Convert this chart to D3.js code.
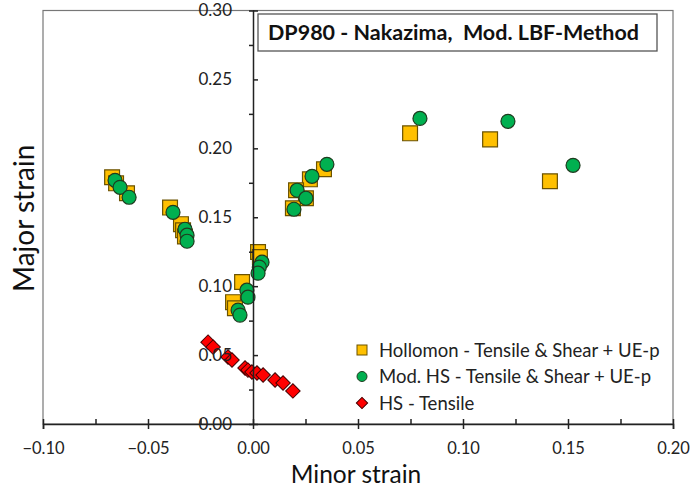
<!DOCTYPE html>
<html>
<head>
<meta charset="utf-8">
<script src="https://cdn.jsdelivr.net/npm/d3@7"></script>
<style>
  body { margin: 0; background: #fff; }
  svg { font-family: Lato, 'Open Sans', sans-serif; }
  .tick text { fill: #222; }
</style>
</head>
<body>
<svg id="chart"></svg>
<script>
// Hollomon - Tensile & Shear + UE-p
const hollomonMinor = [-0.0671, -0.0652, -0.0600, -0.0395, -0.0343, -0.0333, -0.0324,
  0.0024, 0.0033, -0.0052, -0.0095, -0.0086,
  0.0338, 0.0271, 0.0205, 0.0252, 0.0190,
  0.0748, 0.1129, 0.1414]
const hollomonMajor = [0.179, 0.1746, 0.1674, 0.157, 0.145, 0.1406, 0.136,
  0.1248, 0.1212, 0.103, 0.0884, 0.084,
  0.1848, 0.1775, 0.1696, 0.1638, 0.1565,
  0.2109, 0.2065, 0.1761]

// Mod. HS - Tensile & Shear + UE-p
const modHsMinor = [-0.0657, -0.0633, -0.0590, -0.0381, -0.0324, -0.0314, -0.0314,
  0.0043, 0.0030, 0.0024, -0.0029, -0.0024, -0.0071, -0.0062,
  0.0352, 0.0281, 0.0210, 0.0252, 0.0195,
  0.0795, 0.1214, 0.1524]
const modHsMajor = [0.1768, 0.1717, 0.1645, 0.1536, 0.1413, 0.137, 0.1326,
  0.1174, 0.1138, 0.1094, 0.0971, 0.092, 0.0826, 0.079,
  0.1884, 0.1797, 0.1696, 0.1638, 0.1558,
  0.2217, 0.2196, 0.1877]

// HS - Tensile
const hsMinor = [-0.0214, -0.0190, -0.0119, -0.0100, -0.0038, -0.0024, -0.0005, 0.0019,
  0.0048, 0.0105, 0.0143, 0.0190]
const hsMajor = [0.0594, 0.0558, 0.0486, 0.0464, 0.0406, 0.0391, 0.0377, 0.037,
  0.0355, 0.0319, 0.0297, 0.0240]

const xTicks = [-0.10, -0.05, 0.00, 0.05, 0.10, 0.15, 0.20]
const yTicks = [0.00, 0.05, 0.10, 0.15, 0.20, 0.25, 0.30]
const legendLabels = ['Hollomon - Tensile & Shear + UE-p', 'Mod. HS - Tensile & Shear + UE-p', 'HS - Tensile']
const chartTitle = 'DP980 - Nakazima,  Mod. LBF-Method'

const width = 694, height = 488
const svg = d3.select('#chart').attr('width', width).attr('height', height)

const x = d3.scaleLinear().domain([-0.1, 0.2]).range([43, 673])
const y = d3.scaleLinear().domain([0, 0.3]).range([424, 10.5])

// plot frame
svg.append('rect')
  .attr('x', x(-0.1)).attr('y', y(0.3))
  .attr('width', x(0.2) - x(-0.1)).attr('height', y(0) - y(0.3))
  .attr('fill', 'none').attr('stroke', '#777').attr('stroke-width', 1.2)

const minorX = d3.range(-0.075, 0.2, 0.05)
const minorY = d3.range(0.025, 0.3, 0.05)

// markers
const zip = (a, b) => a.map((v, i) => [v, b[i]])
const sq = d3.symbol().type(d3.symbolSquare).size(220)
const dia = d3.symbol().type(d3.symbolSquare).size(105)

const marks = svg.append('g')
marks.selectAll('.hol').data(zip(hollomonMinor, hollomonMajor)).join('path')
  .attr('class', 'hol')
  .attr('d', sq)
  .attr('transform', d => `translate(${x(d[0])},${y(d[1])})`)
  .attr('fill', '#FFC000').attr('stroke', '#6b5200').attr('stroke-width', 1.2)

marks.selectAll('.mod').data(zip(modHsMinor, modHsMajor)).join('circle')
  .attr('class', 'mod')
  .attr('cx', d => x(d[0])).attr('cy', d => y(d[1])).attr('r', 7)
  .attr('fill', '#00B050').attr('stroke', '#1f3b1f').attr('stroke-width', 1.2)

marks.selectAll('.hs').data(zip(hsMinor, hsMajor)).join('path')
  .attr('class', 'hs')
  .attr('d', dia)
  .attr('transform', d => `translate(${x(d[0])},${y(d[1])}) rotate(45)`)
  .attr('fill', '#FF0000').attr('stroke', '#400').attr('stroke-width', 1)

// x axis (major ticks cross, minor ticks inside)
const xAxisG = svg.append('g').attr('transform', `translate(0,${y(0)})`)
xAxisG.call(d3.axisBottom(x).tickValues(xTicks).tickSize(5).tickPadding(13).tickFormat(d3.format('.2f')))
xAxisG.selectAll('.tick line').attr('y1', -5)
xAxisG.append('g').call(d3.axisTop(x).tickValues(minorX).tickSize(5).tickFormat(''))
  .call(g => g.select('.domain').remove())
xAxisG.selectAll('line, path').attr('stroke', '#222').attr('stroke-width', 1.5)
xAxisG.selectAll('text').attr('font-size', 16.5).attr('font-family', 'Lato')

// y axis at x = 0
const yAxisG = svg.append('g').attr('transform', `translate(${x(0)},0)`)
yAxisG.call(d3.axisLeft(y).tickValues(yTicks).tickSize(4).tickPadding(17).tickFormat(d3.format('.2f')))
yAxisG.selectAll('.tick line').attr('x2', 5)
yAxisG.append('g').call(d3.axisLeft(y).tickValues(minorY).tickSize(4).tickFormat(''))
  .call(g => g.select('.domain').remove())
yAxisG.selectAll('line, path').attr('stroke', '#222').attr('stroke-width', 1.5)
yAxisG.selectAll('text').attr('font-size', 17).attr('font-family', 'Lato')

// axis titles
svg.append('text')
  .attr('x', (x(-0.1) + x(0.2)) / 2 - 2).attr('y', 482.8)
  .attr('text-anchor', 'middle').attr('font-size', 24.5).attr('fill', '#111')
  .text('Minor strain')

svg.append('text')
  .attr('transform', `translate(34,${(y(0) + y(0.3)) / 2 + 1}) rotate(-90)`)
  .attr('text-anchor', 'middle').attr('font-size', 28).attr('fill', '#111')
  .text('Major strain')

// title box
svg.append('rect')
  .attr('x', 258).attr('y', 14).attr('width', 399).attr('height', 37)
  .attr('fill', '#fff').attr('stroke', '#555').attr('stroke-width', 1.3)
svg.append('text')
  .attr('x', 268).attr('y', 40)
  .attr('font-size', 21.5).attr('font-weight', 'bold').attr('fill', '#111')
  .style('white-space', 'pre')
  .text(chartTitle)

// legend
const legend = svg.append('g').attr('transform', 'translate(362,350)')
const legendRows = legend.selectAll('g').data(legendLabels).join('g')
  .attr('transform', (d, i) => `translate(0,${i * 26.5})`)
legendRows.filter((d, i) => i === 0).append('rect')
  .attr('x', -5).attr('y', -5).attr('width', 10).attr('height', 10)
  .attr('fill', '#FFC000').attr('stroke', '#6b5200')
legendRows.filter((d, i) => i === 1).append('circle')
  .attr('r', 5).attr('fill', '#00B050').attr('stroke', '#1f3b1f')
legendRows.filter((d, i) => i === 2).append('rect')
  .attr('x', -4).attr('y', -4).attr('width', 8).attr('height', 8)
  .attr('transform', 'rotate(45)')
  .attr('fill', '#FF0000').attr('stroke', '#400')
legendRows.append('text')
  .attr('x', 17).attr('y', 6.5)
  .attr('font-size', 18.5).attr('fill', '#222')
  .text(d => d)
</script>
</body>
</html>
